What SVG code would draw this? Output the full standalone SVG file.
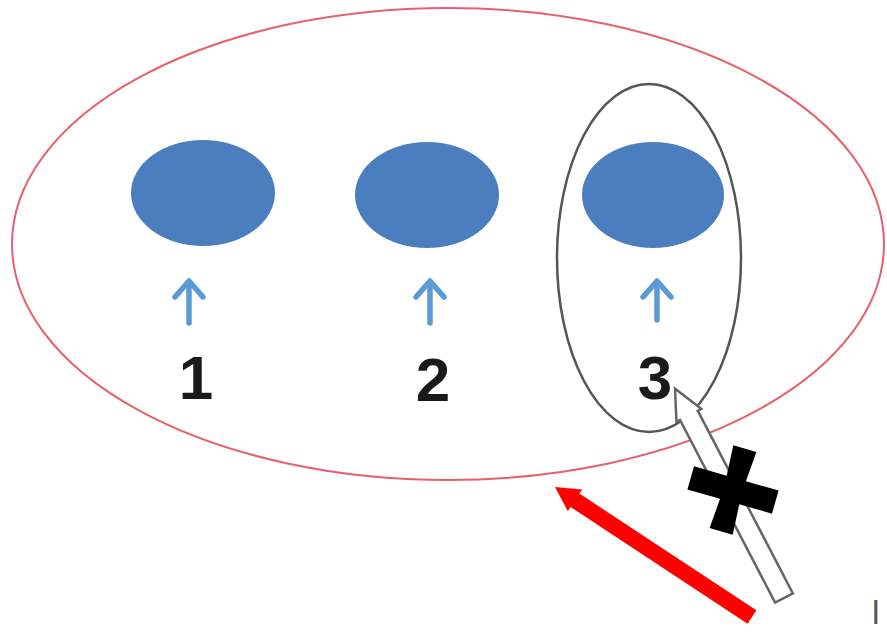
<svg xmlns="http://www.w3.org/2000/svg" width="887" height="636" viewBox="0 0 887 636">
<style>
.node{fill:#4a7ebf}
.num{font-family:"Liberation Sans",Arial,sans-serif;font-weight:bold;font-size:62px;fill:#1a1a1a;text-anchor:middle}
.up{stroke:#5b9bd5;stroke-width:5.5;fill:none;stroke-linecap:round;stroke-linejoin:round}
</style>
<rect width="887" height="636" fill="#ffffff"/>
<g id="group-outer">
<ellipse cx="448" cy="244" rx="436" ry="236" fill="none" stroke="#e8606c" stroke-width="2"/>
</g>
<g id="node-1"><ellipse class="node" cx="203" cy="193" rx="72" ry="53"/></g>
<g id="node-2"><ellipse class="node" cx="427" cy="195" rx="72" ry="53"/></g>
<g id="node-3"><ellipse class="node" cx="653" cy="195" rx="71" ry="53"/></g>
<g id="group-3">
<ellipse cx="649" cy="258" rx="92" ry="174" fill="none" stroke="#555555" stroke-width="2.5"/>
</g>
<g id="labels">
<text class="num" x="196" y="399">1</text>
<text class="num" x="433" y="401">2</text>
<text class="num" x="655" y="399">3</text>
</g>
<g id="connectors">
<g class="up">
<line x1="189" y1="323" x2="189" y2="282"/><polyline points="175,297 189,281 203,297"/>
<line x1="430" y1="323" x2="430" y2="282"/><polyline points="416,297 430,281 444,297"/>
<line x1="657" y1="320" x2="657" y2="282"/><polyline points="643,297 657,281 671,297"/>
</g>
<path transform="translate(784,598) rotate(-117.5)" d="M0,-10 L206,-10 L206,-14 L236,0 L206,14 L206,10 L0,10 Z" fill="#ffffff" stroke="#666666" stroke-width="2.5" stroke-linejoin="miter"/>
<path transform="translate(752,617) rotate(-146.6)" d="M0,-8 L212,-8 L212,-13 L236,0 L212,13 L212,8 L0,8 Z" fill="#ff0000"/>
<path transform="translate(733,490) rotate(16)" d="M-12,-43 L12,-43 L10,-12 L44,-12 L44,12 L10,12 L12,43 L-12,43 L-10,12 L-44,12 L-44,-12 L-10,-12 Z" fill="#000000"/>
</g>
<text x="872" y="624" font-family="Liberation Sans,Arial,sans-serif" font-size="34" fill="#555555">l</text>
</svg>
